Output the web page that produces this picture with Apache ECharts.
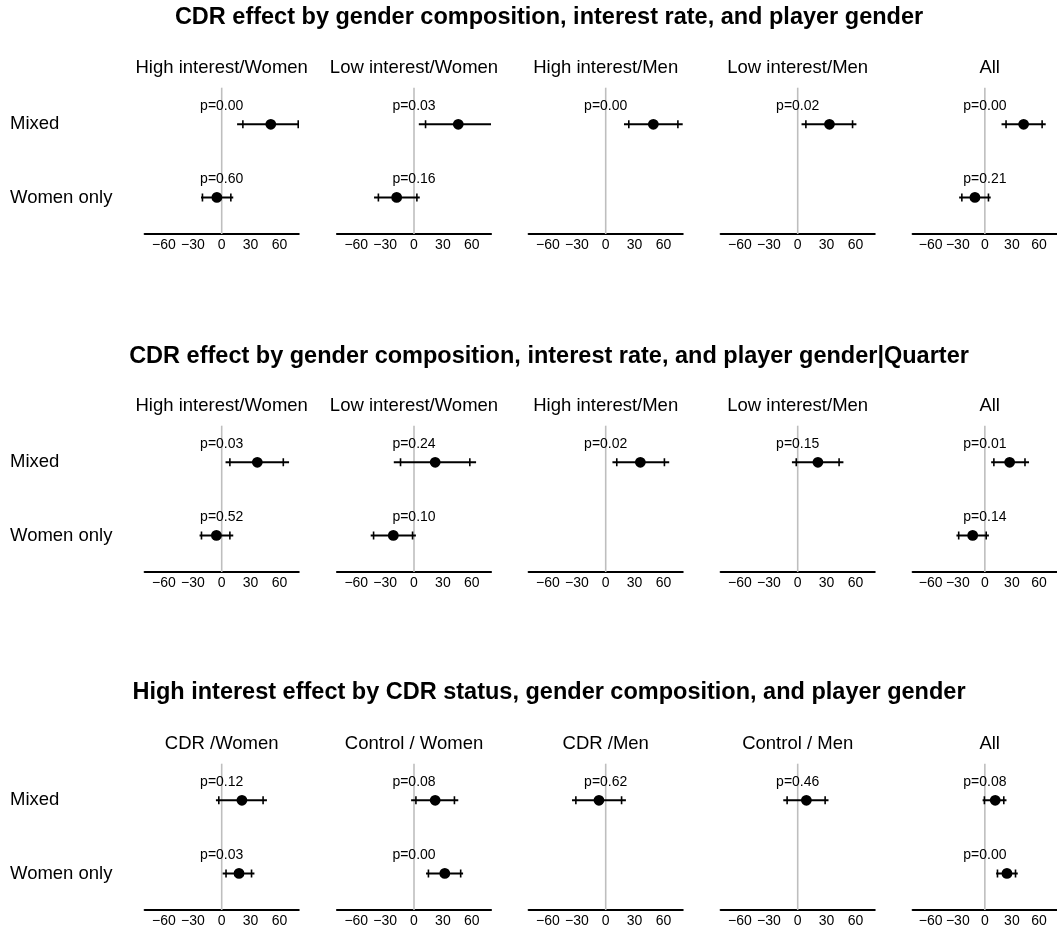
<!DOCTYPE html>
<html>
<head>
<meta charset="utf-8">
<script src="https://cdn.jsdelivr.net/npm/echarts@6/dist/echarts.min.js"></script>
<style>
  html, body { margin: 0; padding: 0; background: #fff; }
  #chart { width: 1057px; height: 930px; }
</style>
</head>
<body>
<div id="chart"></div>
<script>
// ---- data ----
const rowLabels = ['Mixed', 'Women only'];
const xTicks = [-60, -30, 0, 30, 60];

const panelTitles = [
  'CDR effect by gender composition, interest rate, and player gender',
  'CDR effect by gender composition, interest rate, and player gender|Quarter',
  'High interest effect by CDR status, gender composition, and player gender'
];
const cdrGroups = ['High interest/Women', 'Low interest/Women', 'High interest/Men', 'Low interest/Men', 'All'];
const hiGroups  = ['CDR /Women', 'Control / Women', 'CDR /Men', 'Control / Men', 'All'];

// Each entry: [Mixed, Women only] for one group; null = not estimated
// Panel 1: CDR effect
const cdrEst  = [[51, -5], [46, -18], [49.5, null], [33, null], [43, -11]];
const cdrLo95 = [[16, -21.5], [5, -41.5], [19, null], [4, null], [18.5, -28.5]];
const cdrHi95 = [[86, 12], [87, 6], [80, null], [61, null], [67.5, 6.5]];
const cdrLo90 = [[22, -20], [12, -37], [24, null], [8.5, null], [23.5, -25.5]];
const cdrHi90 = [[79.5, 9.5], [82, 3], [75, null], [57, null], [63.5, 4]];
const cdrP    = [['0.00', '0.60'], ['0.03', '0.16'], ['0.00', null], ['0.02', null], ['0.00', '0.21']];

// Panel 2: CDR effect, quarter controls
const qEst  = [[37, -5.5], [22, -21.5], [36, null], [21, null], [27.5, -13.5]];
const qLo95 = [[4, -23], [-21, -45], [7, null], [-6, null], [7, -31.5]];
const qHi95 = [[70, 12], [64.5, 2], [66, null], [47.5, null], [49, 4.5]];
const qLo90 = [[8.5, -21], [-14, -42], [11.5, null], [-1.5, null], [10, -29]];
const qHi90 = [[64, 8.5], [58, -1.5], [61, null], [43, null], [44.5, 1.5]];
const qP    = [['0.03', '0.52'], ['0.24', '0.10'], ['0.02', null], ['0.15', null], ['0.01', '0.14']];

// Panel 3: high interest effect
const hiEst  = [[21, 18], [22, 32], [-7, null], [9, null], [11.5, 24.5]];
const hiLo95 = [[-6, 1], [-3, 12.5], [-35, null], [-15, null], [-2.5, 12.5]];
const hiHi95 = [[47, 34], [46, 51], [21, null], [32, null], [24, 36.5]];
const hiLo90 = [[-3, 4.5], [2, 15], [-31, null], [-11, null], [-0.5, 14]];
const hiHi90 = [[43, 31], [42, 48.5], [16.5, null], [28.5, null], [21, 34]];
const hiP    = [['0.12', '0.03'], ['0.08', '0.00'], ['0.62', null], ['0.46', null], ['0.08', '0.00']];

const panels = [
  { title: panelTitles[0], groups: cdrGroups, est: cdrEst, lo95: cdrLo95, hi95: cdrHi95, lo90: cdrLo90, hi90: cdrHi90, p: cdrP },
  { title: panelTitles[1], groups: cdrGroups, est: qEst,   lo95: qLo95,   hi95: qHi95,   lo90: qLo90,   hi90: qHi90,   p: qP },
  { title: panelTitles[2], groups: hiGroups,  est: hiEst,  lo95: hiLo95,  hi95: hiHi95,  lo90: hiLo90,  hi90: hiHi90,  p: hiP }
];

// ---- layout ----
const FONT = '"Liberation Sans", Arial, Helvetica, sans-serif';
const zeroX = [221.7, 414, 605.7, 797.7, 989.7]; // x of the zero line in each column
const HALF_W = 77;          // half of the axis length (x from -80 to 80)
const PANEL_STEP = 338;     // vertical distance between panels
const GRID_TOP = 87.7;
const GRID_H = 146.3;
const MAIN_TITLE_Y = [18, 357, 693];
const SUB_TITLE_Y = 68;

const grids = [], xAxes = [], yAxes = [], series = [], graphics = [];

panels.forEach((pn, k) => {
  graphics.push({
    type: 'text', silent: true,
    style: { text: pn.title, x: 549, y: MAIN_TITLE_Y[k], align: 'center', verticalAlign: 'middle',
             font: 'bold 23.5px ' + FONT, fill: '#000' }
  });
  pn.groups.forEach((name, j) => {
    const g = k * 5 + j;
    const top = GRID_TOP + k * PANEL_STEP;
    grids.push({ left: zeroX[j] - HALF_W, top: top, width: HALF_W * 2, height: GRID_H, containLabel: false });
    graphics.push({
      type: 'text', silent: true,
      style: { text: name, x: zeroX[j], y: SUB_TITLE_Y + k * PANEL_STEP, align: 'center', verticalAlign: 'middle',
               font: '18.5px ' + FONT, fill: '#000' }
    });
    xAxes.push({
      gridIndex: g, type: 'value', min: -80, max: 80,
      axisLine: { show: true, lineStyle: { color: '#000', width: 2.2 } },
      axisTick: { show: false },
      splitLine: { show: false },
      axisLabel: {
        customValues: xTicks,
        formatter: v => String(v).replace('-', '\u2212'),
        fontSize: 14, fontFamily: FONT, color: '#000', margin: 4
      }
    });
    yAxes.push({
      gridIndex: g, type: 'category', data: rowLabels, inverse: true, boundaryGap: true,
      axisLine: { show: false }, axisTick: { show: false }, splitLine: { show: false },
      axisLabel: j === 0
        ? { show: true, align: 'left', margin: zeroX[0] - HALF_W - 10, fontSize: 18.5, fontFamily: FONT, color: '#000' }
        : { show: false }
    });

    // zero reference line, spanning the full plot height
    series.push({
      type: 'custom', xAxisIndex: g, yAxisIndex: g, silent: true, animation: false,
      data: [[0, 0]],
      renderItem: (params, api) => {
        const cs = params.coordSys;
        const x = api.coord([0, 0])[0];
        return { type: 'line', shape: { x1: x, y1: cs.y, x2: x, y2: cs.y + cs.height },
                 style: { stroke: '#bebebe', lineWidth: 1.6 } };
      }
    });

    // estimates with 95% (line) and 90% (ticks) intervals
    const items = [];
    rowLabels.forEach((r, i) => {
      if (pn.est[j][i] == null) return;
      items.push({ value: [pn.est[j][i], i, pn.lo95[j][i], pn.hi95[j][i], pn.lo90[j][i], pn.hi90[j][i]],
                   p: pn.p[j][i] });
    });
    series.push({
      type: 'custom', xAxisIndex: g, yAxisIndex: g, silent: true, animation: false, clip: true,
      encode: { x: 0, y: 1 },
      data: items.map(d => d.value),
      renderItem: (params, api) => {
        const row = api.value(1);
        const pt = api.coord([api.value(0), row]);
        const y = pt[1];
        const x0 = api.coord([0, row])[0];
        const l95 = api.coord([api.value(2), row])[0];
        const h95 = api.coord([api.value(3), row])[0];
        const l90 = api.coord([api.value(4), row])[0];
        const h90 = api.coord([api.value(5), row])[0];
        const th = 4;
        return {
          type: 'group',
          children: [
            { type: 'line', shape: { x1: l95, y1: y, x2: h95, y2: y }, style: { stroke: '#000', lineWidth: 2 } },
            { type: 'line', shape: { x1: l90, y1: y - th, x2: l90, y2: y + th }, style: { stroke: '#000', lineWidth: 1.6 } },
            { type: 'line', shape: { x1: h90, y1: y - th, x2: h90, y2: y + th }, style: { stroke: '#000', lineWidth: 1.6 } },
            { type: 'circle', shape: { cx: pt[0], cy: y, r: 5.4 }, style: { fill: '#000' } },
            { type: 'text', style: { text: 'p=' + items[params.dataIndex].p, x: x0, y: y - 18.6,
                                     align: 'center', verticalAlign: 'middle', font: '14px ' + FONT, fill: '#000' } }
          ]
        };
      }
    });
  });
});

const chart = echarts.init(document.getElementById('chart'), null, { renderer: 'canvas' });
chart.setOption({
  animation: false,
  backgroundColor: '#fff',
  grid: grids,
  xAxis: xAxes,
  yAxis: yAxes,
  series: series,
  graphic: graphics
});
</script>
</body>
</html>
